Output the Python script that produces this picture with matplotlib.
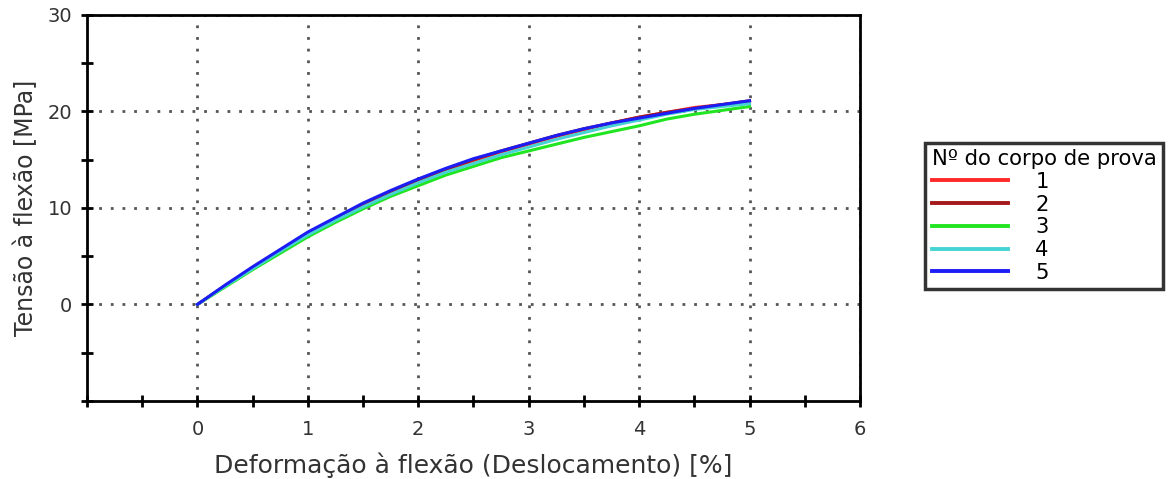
import matplotlib

matplotlib.use("Agg")

import matplotlib.pyplot as plt

# deformation [%] and flexural stress [MPa] for each specimen
strain = [0.0, 0.25, 0.5, 0.75, 1.0, 1.25, 1.5, 1.75, 2.0, 2.25, 2.5,
          2.75, 3.0, 3.25, 3.5, 3.75, 4.0, 4.25, 4.5, 4.75, 5.0]
stress_1 = [0.0, 1.9, 3.8, 5.6, 7.3, 8.8, 10.3, 11.6, 12.8, 13.9, 14.9,
            15.8, 16.6, 17.4, 18.1, 18.8, 19.4, 19.9, 20.4, 20.7, 21.0]
stress_2 = [0.0, 1.9, 3.8, 5.6, 7.4, 8.9, 10.4, 11.7, 12.9, 14.0, 15.0,
            15.9, 16.7, 17.5, 18.2, 18.8, 19.4, 19.9, 20.3, 20.7, 21.1]
stress_3 = [0.0, 1.8, 3.6, 5.3, 7.0, 8.5, 9.9, 11.2, 12.3, 13.4, 14.3,
            15.2, 15.9, 16.6, 17.3, 17.9, 18.5, 19.2, 19.7, 20.1, 20.5]
stress_4 = [0.0, 1.9, 3.7, 5.5, 7.2, 8.7, 10.1, 11.4, 12.6, 13.7, 14.6,
            15.5, 16.3, 17.1, 17.8, 18.5, 19.1, 19.7, 20.2, 20.5, 20.8]
stress_5 = [0.0, 2.0, 3.9, 5.7, 7.5, 9.0, 10.5, 11.8, 13.0, 14.1, 15.1,
            15.9, 16.7, 17.5, 18.2, 18.8, 19.3, 19.8, 20.3, 20.7, 21.1]

specimens = ["1", "2", "3", "4", "5"]
series = [stress_1, stress_2, stress_3, stress_4, stress_5]
colors = ["#ff2a2a", "#a3191c", "#22e522", "#45d3d3", "#1c1cf5"]

x_major = [0, 1, 2, 3, 4, 5, 6]
x_minor = [-1, -0.5, 0.5, 1.5, 2.5, 3.5, 4.5, 5.5]
y_major = [0, 10, 20, 30]
y_minor = [-10, -5, 5, 15, 25]

fig = plt.figure(figsize=(11.7, 4.79), dpi=100)
ax = fig.add_axes([0.0744, 0.163, 0.6606, 0.806])

for label, values, color in zip(specimens, series, colors):
    ax.plot(strain, values, color=color, lw=2.2, label=label)

ax.set_xlim(-1, 6)
ax.set_ylim(-10, 30)
ax.set_xticks(x_major)
ax.set_xticks(x_minor, minor=True)
ax.set_yticks(y_major)
ax.set_yticks(y_minor, minor=True)
ax.tick_params(which="both", direction="inout", length=9, width=2, color="black",
               labelsize=14, labelcolor="#333333", pad=9)
ax.tick_params(axis="y", pad=6)

ax.grid(True, which="major", linestyle=(0, (1, 3.2)), color="#555555", lw=2)

for spine in ax.spines.values():
    spine.set_linewidth(2)

ax.set_xlabel("Deformação à flexão (Deslocamento) [%]", fontsize=18, color="#333333", labelpad=10)
ax.set_ylabel("Tensão à flexão [MPa]", fontsize=17, color="#333333", labelpad=7)

leg = ax.legend(title="Nº do corpo de prova", loc="upper left",
                bbox_to_anchor=(0.791, 0.702), bbox_transform=fig.transFigure,
                fontsize=15.2, title_fontsize=15.2, handlelength=3.6, handletextpad=1.3,
                labelspacing=0.13, borderpad=0.3, borderaxespad=0, frameon=True,
                fancybox=False, edgecolor="black")
leg.get_frame().set_linewidth(2.5)
leg._legend_box.align = "left"
for handle in leg.get_lines():
    handle.set_linewidth(2.8)

fig.savefig("out.png", dpi=100)
